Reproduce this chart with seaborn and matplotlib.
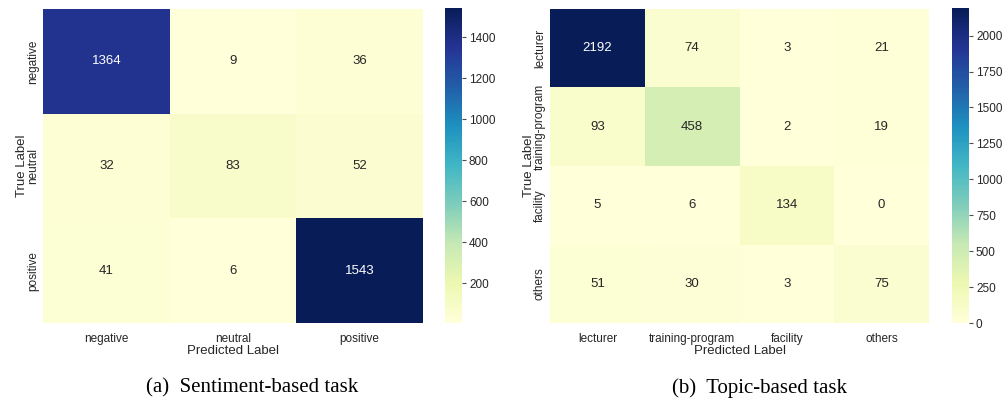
import numpy as np
import matplotlib
matplotlib.use("Agg")
import matplotlib.pyplot as plt
import seaborn as sns

# sentiment task
sent_labels = ["negative", "neutral", "positive"]
sent_cm = [[1364, 9, 36],
           [32, 83, 52],
           [41, 6, 1543]]

# topic task
topic_labels = ["lecturer", "training-program", "facility", "others"]
topic_cm = [[2192, 74, 3, 21],
            [93, 458, 2, 19],
            [5, 6, 134, 0],
            [51, 30, 3, 75]]

captions = ["(a)  Sentiment-based task", "(b)  Topic-based task"]

sns.set_theme()
plt.rcParams["font.family"] = ["Liberation Sans", "DejaVu Sans"]
fig = plt.figure(figsize=(10.05, 4.05), dpi=100)

W, H = 1005, 405
def box(x0, x1, y0, y1):
    return [x0 / W, 1 - y1 / H, (x1 - x0) / W, (y1 - y0) / H]

panels = [
    (sent_cm, sent_labels, box(43, 423, 9, 323), box(445, 462, 8, 323), 252),
    (topic_cm, topic_labels, box(550, 929, 9, 323), box(952, 969, 8, 323), 759),
]

for (cm, labels, abox, cbox, cx), cap in zip(panels, captions):
    ax = fig.add_axes(abox)
    cax = fig.add_axes(cbox)
    sns.heatmap(np.array(cm), annot=True, fmt="d", cmap="YlGnBu", ax=ax, cbar_ax=cax,
                xticklabels=labels, yticklabels=labels, annot_kws={"size": 9.5})
    ax.set_xlabel("Predicted Label", fontsize=9.5, labelpad=0)
    ax.set_ylabel("True Label", fontsize=9.5, labelpad=-1)
    ax.tick_params(axis="x", labelsize=8.5, pad=1)
    ax.tick_params(axis="y", labelsize=8.5, pad=-3)
    plt.setp(ax.get_xticklabels(), rotation=0)
    plt.setp(ax.get_yticklabels(), rotation=90, va="center")
    cax.tick_params(labelsize=8.5, length=3, width=0.8, color=".3", pad=2)
    fig.text(cx / W, 1 - 388 / H, cap, ha="center", va="center",
             fontsize=15, family="Liberation Serif", color="black")

fig.savefig("out.png", dpi=100)
